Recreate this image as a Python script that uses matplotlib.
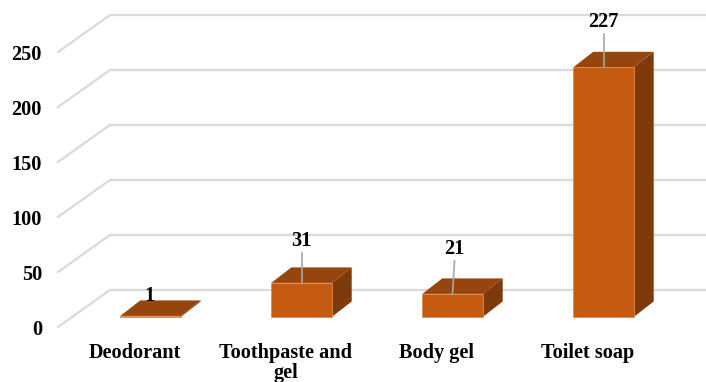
import matplotlib
matplotlib.use("Agg")
import matplotlib.pyplot as plt
from matplotlib.patches import Polygon

categories = ["Deodorant", "Toothpaste and\ngel", "Body gel", "Toilet soap"]
values = [1, 31, 21, 227]
y_ticks = [0, 50, 100, 150, 200, 250]

FRONT = "#C55A11"
TOP = "#96450D"
SIDE = "#7E3A0B"
EDGE = "#E08A4E"
GRID = "#DADADA"

W, H = 706, 382
plt.rcParams["font.family"] = ["Liberation Serif", "DejaVu Serif"]
plt.rcParams["font.weight"] = "bold"
fig = plt.figure(figsize=(W / 100, H / 100), dpi=100)
ax = fig.add_axes([0, 0, 1, 1])
ax.axis("off")

# Category axis: 151 px between bars; value axis: 1.1 px per unit, baseline at y=317 px.
PX_X = 151.0
PX_Y = 1.1
ax.set_xlim(-150.5 / PX_X, (W - 150.5) / PX_X)
ax.set_ylim((317 - H) / PX_Y, 317 / PX_Y)

half = 30.2 / PX_X
depth_x = 20 / PX_X
depth_y = 15.5 / PX_Y

# Floor/wall lines of the 3D frame
left = (58 - 150.5) / PX_X
wall = (110 - 150.5) / PX_X
right = (W - 150.5) / PX_X
front_base = -10 / PX_Y
back_base = 27 / PX_Y
for t in y_ticks:
    ax.plot([left, wall, right],
            [front_base + t, back_base + t, back_base + t],
            color=GRID, lw=1.6, solid_joinstyle="miter", zorder=1)
    ax.text((42 - 150.5) / PX_X, front_base - 3 / PX_Y + t, str(t),
            ha="right", va="center", fontsize=14.6, color="black")

# Extruded bars
for i, v in enumerate(values):
    x0, x1 = i - half, i + half
    ax.add_patch(Polygon([(x1, 0), (x1 + depth_x, depth_y), (x1 + depth_x, v + depth_y), (x1, v)],
                         facecolor=SIDE, edgecolor="none", zorder=2))
    ax.add_patch(Polygon([(x0, v), (x0 + depth_x, v + depth_y), (x1 + depth_x, v + depth_y), (x1, v)],
                         facecolor=TOP, edgecolor="none", zorder=2))
    ax.add_patch(Polygon([(x0, 0), (x1, 0), (x1, v), (x0, v)],
                         facecolor=FRONT, edgecolor=EDGE, lw=0.6, zorder=3))
    ax.text(i - 16 / PX_X, -26 / PX_Y, categories[i], ha="center", va="top",
            fontsize=14.6, color="black", linespacing=1.03)

# Data labels with leader lines: (x shift in px, label height above bar top in px)
label_offsets = [(-1, 20), (0, 42), (2, 45), (0, 45)]
for i, (v, (dx, dy)) in enumerate(zip(values, label_offsets)):
    lx = i + dx / PX_X
    ly = v + dy / PX_Y
    if v > 1:
        ax.plot([i, lx], [v, ly - 12 / PX_Y], color="#A6A6A6", lw=1.2, zorder=4)
    ax.text(lx, ly, str(v), ha="center", va="center", fontsize=14.6,
            color="black", zorder=5)

fig.savefig("out.png", dpi=100, facecolor="white")
